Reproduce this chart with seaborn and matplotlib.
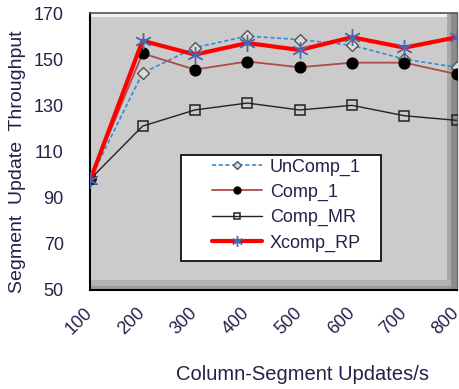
import numpy as np
import matplotlib
matplotlib.use("Agg")
import matplotlib.pyplot as plt
import matplotlib.patches as mpatches
import pandas as pd
import seaborn as sns

# datos
updates = [100, 200, 300, 400, 500, 600, 700, 800]
uncomp_1 = [98, 144, 155, 160, 158.5, 156, 150, 146.5]
comp_1 = [98, 152.5, 145.5, 149, 146.5, 148.5, 148.5, 143.5]
comp_mr = [98, 121, 128, 131, 128, 130, 125.5, 123.5]
xcomp_rp = [97.5, 158, 152, 157, 154, 159.5, 155, 159.5]

y_ticks = [50, 70, 90, 110, 130, 150, 170]

sns.set_style("white")
plt.rcParams["font.family"] = ["Liberation Sans", "DejaVu Sans"]
txt = "#22224a"

fig = plt.figure(figsize=(4.6, 3.89), dpi=100)
ax = fig.add_axes([0.196, 0.2545, 0.797, 0.712])
ax.set_facecolor("#cbcbcb")

# bisel gris del area de trazado
ax.add_patch(mpatches.Rectangle((0.973, 0), 0.027, 1, transform=ax.transAxes,
                                color="#a8a8a8", zorder=0.5, lw=0))
ax.add_patch(mpatches.Rectangle((0.985, 0), 0.015, 1, transform=ax.transAxes,
                                color="#8c8c8c", zorder=0.6, lw=0))
ax.add_patch(mpatches.Rectangle((0, 0), 0.985, 0.036, transform=ax.transAxes,
                                color="#b2b2b2", zorder=0.7, lw=0))
ax.add_patch(mpatches.Rectangle((0, 0), 0.985, 0.015, transform=ax.transAxes,
                                color="#9a9a9a", zorder=0.75, lw=0))
ax.add_patch(mpatches.Rectangle((0, 0.985), 0.973, 0.01, transform=ax.transAxes,
                                color="#f2f2f2", zorder=0.7, lw=0))

df = pd.DataFrame({"x": updates, "UnComp_1": uncomp_1, "Comp_1": comp_1,
                   "Comp_MR": comp_mr, "Xcomp_RP": xcomp_rp})

sns.lineplot(data=df, x="x", y="UnComp_1", ax=ax, color="#3a8ad6", lw=1.2,
             linestyle=(0, (2.5, 1.5)), marker="D", markersize=6, markerfacecolor="#dadada",
             markeredgecolor="#555555", markeredgewidth=1, label="UnComp_1", zorder=3)
sns.lineplot(data=df, x="x", y="Comp_1", ax=ax, color="#b04a4a", lw=1.3,
             marker="o", markersize=8, markerfacecolor="black",
             markeredgecolor="black", label="Comp_1", zorder=3)
sns.lineplot(data=df, x="x", y="Comp_MR", ax=ax, color="#222222", lw=1.0,
             marker="s", markersize=7.5, markerfacecolor="none",
             markeredgecolor="#222222", markeredgewidth=1.1, label="Comp_MR", zorder=3)
sns.lineplot(data=df, x="x", y="Xcomp_RP", ax=ax, color="#ff0000", lw=3,
             marker=(6, 2, 0), markersize=12, markeredgecolor="#4a68b0",
             markeredgewidth=1.0, label="Xcomp_RP", zorder=4)

ax.set_xlim(100, 800)
ax.set_ylim(50, 170)
ax.set_xticks(updates)
ax.set_yticks(y_ticks)
ax.tick_params(axis="both", direction="in", length=5, width=1, colors="black",
               labelsize=13, labelcolor=txt)
ax.tick_params(axis="x", pad=15)
ax.tick_params(axis="y", pad=19)
for lab in ax.get_xticklabels():
    lab.set_rotation(45)
    lab.set_ha("right")
    lab.set_va("center")
    lab.set_rotation_mode("anchor")

for s in ["left", "bottom"]:
    ax.spines[s].set_color("black")
    ax.spines[s].set_linewidth(1.5)
ax.spines["right"].set_color("#6a6a6a")
ax.spines["top"].set_color("#555555")
ax.spines["right"].set_linewidth(1)
ax.spines["top"].set_linewidth(1.2)

ax.set_xlabel("Column-Segment Updates/s", fontsize=14.5, color=txt)
ax.xaxis.set_label_coords(0.58, -0.27)
ax.set_ylabel("Segment  Update  Throughput", fontsize=14, color=txt)
ax.yaxis.set_label_coords(-0.174, 0.462)

# caja de la leyenda
ax.add_patch(mpatches.Rectangle((0.248, 0.105), 0.545, 0.382, transform=ax.transAxes,
                                facecolor="white", edgecolor="black", lw=1.2, zorder=5))
leg = ax.legend(loc="upper left", bbox_to_anchor=(0.332, 0.475), frameon=False,
                fontsize=13, handlelength=2.8, handletextpad=0.4, labelspacing=0.45,
                borderpad=0, borderaxespad=0, markerscale=0.65)
leg.set_zorder(6)
for t in leg.get_texts():
    t.set_color(txt)

fig.savefig("out.png", dpi=100)
